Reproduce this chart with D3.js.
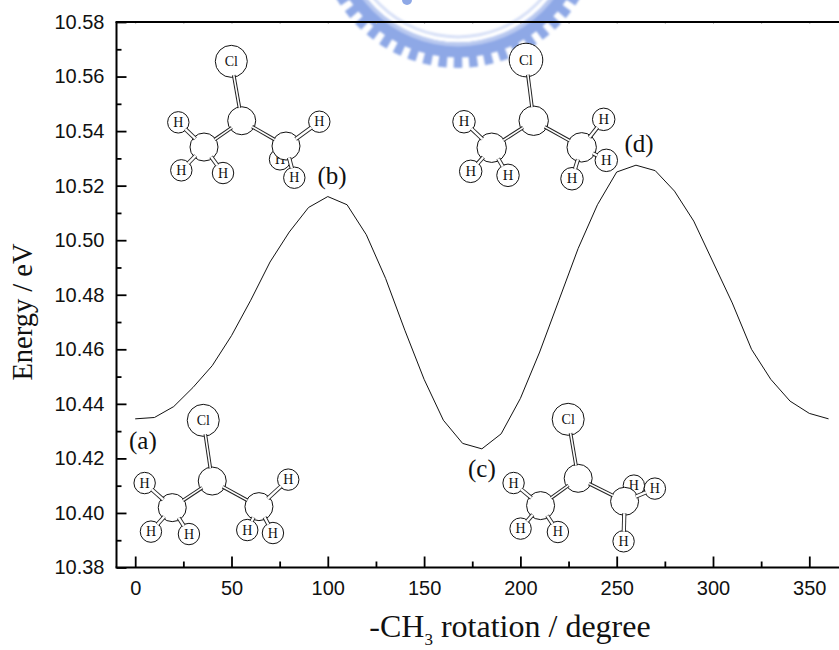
<!DOCTYPE html>
<html><head><meta charset="utf-8">
<script src="https://cdn.jsdelivr.net/npm/d3@7/dist/d3.min.js"></script>
<style>html,body{margin:0;padding:0;background:#fff;overflow:hidden}svg{display:block}</style>
</head><body><div id="c"></div>
<script>
const rotation = [0,10,20,30,40,50,60,70,80,90,100,110,120,130,140,150,160,170,180,190,200,210,220,230,240,250,260,270,280,290,300,310,320,330,340,350,360];
const energy = [10.4345,10.435,10.439,10.446,10.454,10.465,10.478,10.492,10.503,10.512,10.516,10.513,10.502,10.486,10.467,10.449,10.434,10.4255,10.4235,10.429,10.442,10.459,10.478,10.497,10.513,10.525,10.5275,10.5255,10.518,10.507,10.492,10.477,10.46,10.449,10.441,10.4365,10.4345];
const xMajor = [0,50,100,150,200,250,300,350];
const xMinor = [25,75,125,175,225,275,325];
const yMajor = [10.38,10.40,10.42,10.44,10.46,10.48,10.50,10.52,10.54,10.56,10.58];
const yMinor = [10.39,10.41,10.43,10.45,10.47,10.49,10.51,10.53,10.55,10.57];
const xTitle = ["-CH","3"," rotation / degree"];
const yTitle = "Energy / eV";
const stateNames = ["(a)","(b)","(c)","(d)"];
const stateRot = [4,102.2,180,261.6];
const stateEnergy = [10.4235,10.5205,10.413,10.5325];
const moleculeRot = [40,55.3,230,206.9];
const moleculeEnergy = [10.4117,10.5438,10.4127,10.5438];
const moleculeScale = [1,1,1,1.05];
// atom: element, dx, dy from central C; radius by element; back=true drawn behind the carbon
const molecules = [
 [["Cl",-9,-60.7],["C",0,0],["C",-40,26.6],["C",46.7,25.6],["H",-67.6,2],["H",-61.3,50.6],["H",-23.3,53],["H",76,-1.4],["H",35,49],["H",60.7,52]],
 [["Cl",-10.4,-59.4],["C",0,0],["C",-37.7,26.3],["C",44.3,25.3],["H",-63.4,1.6],["H",-60.4,49.6],["H",-18.7,52.3],["H",77.6,1],["H",38.3,38.6,1],["H",52.6,57]],
 [["Cl",-10,-59],["C",0,0],["C",-37.6,27.3],["C",46.4,23],["H",-64.6,4.7],["H",-57.6,50.3],["H",-20.3,53.7],["H",55.7,7.3,1],["H",76.7,10.3],["H",45.4,63]],
 [["Cl",-7.7,-60.7],["C",0,0],["C",-42,27],["C",48,26.6],["H",-69.7,1],["H",-63,50.6],["H",-25.7,54.6],["H",70,-1.4],["H",72.6,39.6],["H",38.3,58]]
];
// bonds: atom-index pairs
const bonds = [[0,1],[1,2],[1,3],[2,4],[2,5],[2,6],[3,7],[3,8],[3,9]];
const radii = {Cl:16,C:14,H:10.7};

const W=839,H=650;
const svg=d3.select("#c").append("svg").attr("width",W).attr("height",H);
const x=d3.scaleLinear().domain([0,350]).range([135.2,809.3]);
const y=d3.scaleLinear().domain([10.38,10.58]).range([567.5,22]);
const left=116.5, right=W, top_=22, bottom=567.5;

// watermark
svg.append("defs").append("filter").attr("id","soft").append("feGaussianBlur").attr("stdDeviation",0.8);
const wm=svg.append("g").attr("transform","translate(458,-73.6)").attr("filter","url(#soft)");
const arc=d3.arc();
const blue="#8ea8e6";
wm.append("path").attr("fill","#d6dff6").attr("d",arc({innerRadius:109,outerRadius:112,startAngle:Math.PI*0.5,endAngle:Math.PI*1.5}));
wm.append("path").attr("fill",blue).attr("d",arc({innerRadius:116,outerRadius:131,startAngle:Math.PI*0.5,endAngle:Math.PI*1.5}));
wm.append("path").attr("fill","#b9c9f0").attr("d",arc({innerRadius:116,outerRadius:120,startAngle:Math.PI*0.5,endAngle:Math.PI*1.5}));
d3.range(-13,14).forEach(i=>{const a=Math.PI+i*0.112;
 wm.append("path").attr("fill",blue).attr("d",arc({innerRadius:130,outerRadius:141.5,startAngle:a-0.031,endAngle:a+0.031}));});
svg.append("circle").attr("cx",407).attr("cy",0).attr("r",5).attr("fill",blue);

// axes
const font="'Liberation Sans',Arial,sans-serif", serif="'Liberation Serif','Times New Roman',serif";
function style(g,lw){g.select(".domain").remove();g.selectAll("line").attr("stroke","#000").attr("stroke-width",lw);
 g.selectAll("text").attr("font-family",font).attr("font-size",20).attr("fill","#111");}
svg.append("g").attr("transform",`translate(${left},0)`).call(d3.axisLeft(y).tickValues(yMajor).tickSize(-10).tickPadding(12).tickFormat(d3.format(".2f"))).call(g=>style(g,1.8));
svg.append("g").attr("transform",`translate(${left},0)`).call(d3.axisLeft(y).tickValues(yMinor).tickSize(-5).tickFormat("")).call(g=>style(g,1.8));
svg.append("g").attr("transform",`translate(0,${bottom})`).call(d3.axisBottom(x).tickValues(xMajor).tickSize(-11).tickPadding(13).tickFormat(d3.format("d"))).call(g=>style(g,1.8));
svg.append("g").attr("transform",`translate(0,${bottom})`).call(d3.axisBottom(x).tickValues(xMinor).tickSize(-6).tickFormat("")).call(g=>style(g,1.8));
svg.append("g").attr("transform",`translate(0,${top_})`).call(d3.axisBottom(x).tickValues(xMajor.concat(xMinor)).tickSize(2).tickFormat("")).call(g=>{style(g,1);g.selectAll("line").attr("stroke","#bbb");});
const frame=[[[left,top_],[left,bottom]],[[left-1,bottom],[right,bottom]],[[left-1,top_],[right,top_]]];
svg.selectAll(".fr").data(frame).join("path").attr("d",d=>d3.line()(d)).attr("stroke","#000").attr("stroke-width",2).attr("fill","none");

// curve
svg.append("path").datum(rotation.map((r,i)=>[r,energy[i]])).attr("fill","none").attr("stroke","#111").attr("stroke-width",1)
 .attr("d",d3.line().x(d=>x(d[0])).y(d=>y(d[1])));

// molecules
molecules.forEach((m,k)=>{
 const s=moleculeScale[k];
 const g=svg.append("g").attr("transform",`translate(${x(moleculeRot[k])},${y(moleculeEnergy[k])})`);
 const atom=(a)=>{const r=radii[a[0]]*s;
  g.append("circle").attr("cx",a[1]).attr("cy",a[2]).attr("r",r).attr("fill","#fff").attr("stroke","#111").attr("stroke-width",1);
  if(a[0]!=="C") g.append("text").attr("x",a[1]).attr("y",a[2]+4.5).attr("text-anchor","middle").attr("font-family",serif).attr("font-size",14*s).attr("fill","#111").text(a[0]);};
 m.filter(a=>a[3]).forEach(atom);
 m.filter(a=>!a[3]).forEach(atom);
 bonds.forEach(([i,j])=>{const A=m[i],B=m[j];if(B[3])return;const dx=B[1]-A[1],dy=B[2]-A[2],L=Math.hypot(dx,dy);
  const ra=radii[A[0]]*s-2,rb=radii[B[0]]*s-1;
  const p=[A[1]+dx/L*ra,A[2]+dy/L*ra],q=[B[1]-dx/L*rb,B[2]-dy/L*rb];
  const w=(B[0]==="H")?[4.2,2.4]:[3.6,1.6];
  g.append("path").attr("d",d3.line()([p,q])).attr("stroke","#222").attr("stroke-width",w[0]);
  g.append("path").attr("d",d3.line()([p,q])).attr("stroke","#fff").attr("stroke-width",w[1]);});
});

// state labels
svg.selectAll(".st").data(stateNames).join("text").attr("x",(d,i)=>x(stateRot[i])).attr("y",(d,i)=>y(stateEnergy[i]))
 .attr("text-anchor","middle").attr("font-family",serif).attr("font-size",25).attr("fill","#111").text(d=>d);

// titles
const xt=svg.append("text").attr("x",510).attr("y",637).attr("text-anchor","middle").attr("font-family",serif).attr("font-size",32).attr("fill","#111");
xt.append("tspan").text(xTitle[0]);
xt.append("tspan").attr("font-size",17).attr("dy",8).text(xTitle[1]);
xt.append("tspan").attr("dy",-8).text(xTitle[2]);
svg.append("text").attr("transform","translate(32,312) rotate(-90)").attr("text-anchor","middle").attr("font-family",serif).attr("font-size",28.5).attr("fill","#111").text(yTitle);
</script></body></html>
